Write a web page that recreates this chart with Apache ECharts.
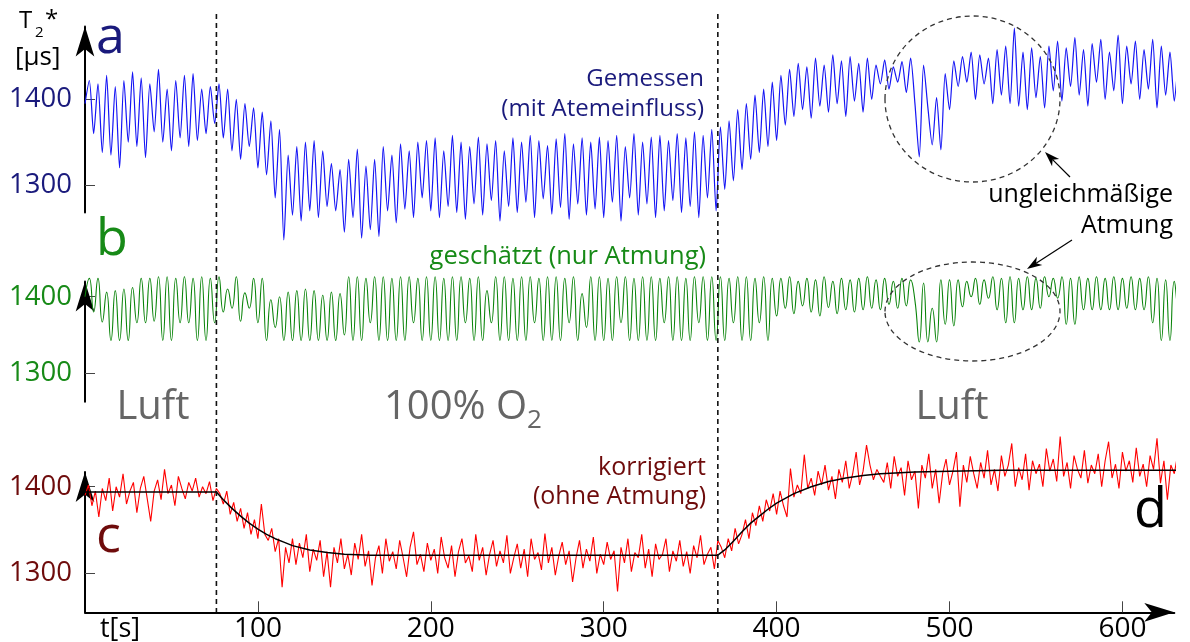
<!DOCTYPE html>
<html><head><meta charset="utf-8">
<script src="https://cdn.jsdelivr.net/npm/echarts@6/dist/echarts.min.js"></script>
<style>html,body{margin:0;padding:0;background:#fff}#c{width:1190px;height:642px}</style>
</head><body><div id="c"></div>
<script>
// ---- data ----
const DT_AB = 2.5;   // sampling step (s) of measured and breathing signal
const DT_C = 2;      // sampling step (s) of corrected signal
const measured = [
1395,1422,1360,1418,1338,1428,1335,1415,1320,1422,
1350,1432,1345,1425,1332,1418,1362,1435,1350,1412,
1340,1422,1355,1428,1345,1430,1352,1412,1360,1415,
1372,1418,1355,1412,1340,1400,1330,1395,1345,1390,
1320,1385,1312,1375,1285,1365,1236,1335,1265,1345,
1258,1350,1270,1352,1262,1340,1275,1325,1270,1318,
1245,1330,1262,1342,1238,1322,1248,1330,1240,1345,
1270,1335,1256,1348,1272,1340,1262,1350,1285,1352,
1270,1355,1262,1340,1275,1358,1268,1350,1260,1345,
1278,1356,1265,1348,1282,1352,1258,1340,1275,1355,
1268,1350,1280,1358,1262,1352,1284,1346,1266,1354,
1274,1360,1260,1348,1278,1355,1265,1350,1272,1356,
1262,1352,1280,1358,1258,1345,1285,1360,1265,1350,
1278,1356,1262,1358,1270,1352,1282,1360,1268,1355,
1275,1362,1262,1358,1285,1365,1270,1368,1295,1375,
1305,1388,1318,1395,1330,1405,1338,1412,1345,1420,
1352,1428,1370,1435,1380,1442,1388,1438,1378,1448,
1392,1440,1385,1452,1395,1445,1380,1450,1398,1442,
1385,1448,1400,1440,1418,1446,1412,1438,1420,1444,
1408,1448,1395,1333,1440,1390,1347,1402,1341,1430,
1388,1445,1415,1450,1420,1455,1400,1452,1418,1448,
1395,1458,1405,1462,1395,1483,1392,1455,1388,1460,
1402,1450,1390,1462,1410,1468,1398,1460,1415,1472,
1405,1458,1392,1465,1420,1470,1400,1455,1410,1475,
1395,1462,1418,1468,1400,1458,1412,1470,1390,1462,
1405,1455,1398,1445,1341,1440,1398];
const breathing = [
1400,1424,1380,1424,1367,1406,1343,1408,1343,1410,
1343,1412,1366,1424,1366,1424,1368,1426,1343,1426,
1343,1424,1366,1426,1366,1424,1343,1426,1343,1424,
1366,1426,1380,1410,1385,1426,1368,1405,1385,1424,
1366,1424,1343,1396,1360,1400,1343,1406,1343,1408,
1343,1410,1343,1408,1343,1402,1343,1406,1343,1404,
1350,1426,1343,1426,1343,1424,1366,1426,1343,1426,
1343,1424,1343,1426,1343,1426,1366,1424,1343,1426,
1343,1426,1343,1424,1343,1426,1343,1426,1366,1424,
1343,1426,1343,1408,1366,1426,1343,1426,1343,1424,
1343,1426,1343,1426,1366,1424,1343,1426,1343,1426,
1343,1424,1366,1426,1343,1404,1360,1426,1343,1426,
1343,1424,1343,1426,1366,1426,1343,1424,1343,1426,
1343,1426,1343,1424,1366,1426,1343,1426,1343,1424,
1343,1426,1366,1426,1343,1426,1343,1426,1343,1424,
1366,1426,1343,1426,1343,1424,1366,1426,1343,1424,
1375,1424,1385,1426,1378,1420,1388,1424,1380,1422,
1375,1426,1386,1420,1378,1424,1383,1422,1380,1424,
1383,1426,1385,1422,1383,1424,1390,1420,1385,1424,
1388,1422,1395,1341,1418,1341,1385,1341,1422,1364,
1422,1362,1422,1387,1420,1400,1424,1390,1422,1398,
1426,1383,1424,1366,1426,1366,1424,1383,1426,1383,
1424,1385,1426,1400,1424,1398,1426,1364,1424,1364,
1426,1383,1424,1383,1426,1383,1424,1383,1426,1383,
1424,1385,1426,1383,1424,1383,1426,1366,1424,1343,
1422,1343,1420,1383,1424,1370];
const corrected = [
1390,1402,1378,1395,1365,1398,1384,1410,1372,1400,
1388,1415,1380,1395,1405,1370,1398,1412,1386,1360,
1395,1408,1385,1420,1392,1402,1378,1412,1398,1386,
1405,1395,1410,1388,1400,1392,1406,1384,1398,1392,
1380,1395,1368,1382,1360,1375,1352,1370,1345,1362,
1340,1380,1345,1338,1352,1325,1340,1284,1330,1312,
1340,
1310,1335,1318,1345,1302,1328,1315,1338,1296,1325,
1284,1330,1312,1340,1305,1322,1298,1335,1316,1345,
1308,1326,1286,1318,1332,1300,1340,1314,1325,1305,
1338,1318,1296,1330,1348,1310,1322,1302,1335,1315,
1328,1300,1342,1318,1306,1332,1296,1325,1340,1312,
1320,1302,1345,1315,1330,1298,1322,1338,1308,1326,
1312,1344,1300,1318,1334,1306,1328,1296,1340,1316,
1324,1304,1346,1312,1330,1298,1320,1336,1310,1326,
1290,1318,1338,1306,1328,1314,1342,1300,1322,1310,
1336,1316,1326,1279,1330,1312,1340,1302,1324,1318,
1345,1306,1328,1296,1334,1316,1322,1340,1302,1326,
1314,1338,1308,1325,1300,1332,1318,1344,1310,1322,
1330,1305,1338,
1330,1318,1340,1326,1352,1334,1345,1362,1340,1370,
1355,1378,1360,1385,1372,1392,1368,1395,1378,1365,
1421,1388,1402,1392,1437,1398,1410,1390,1418,1402,
1425,1396,1412,1386,1420,1405,1430,1398,1415,1440,
1402,1418,1448,1425,1408,1420,1412,
1405,1428,1398,1435,1412,1422,1390,1430,1408,1418,
1375,1425,1410,1438,1398,1420,1381,1415,1432,1402,
1418,1440,1377,1425,1405,1435,1415,1398,1428,1410,
1442,1402,1420,1395,1436,1412,1425,1450,1400,1422,
1408,1438,1396,1430,1415,1426,1400,1444,1418,1432,
1406,1458,1412,1428,1398,1436,1420,1410,1442,1404,
1425,1415,1438,1400,1430,1452,1410,1426,1398,1440,
1418,1430,1405,1445,1412,1426,1400,1436,1420,1456,
1404,1430,1385,1425,1415,1438,1410,1422,1418];
const fitT = [0,76,80,85,90,95,100,105,110,115,120,130,140,150,165,180,366,370,375,380,385,390,395,400,410,420,430,440,450,460,480,500,530,560,640];
const fitV = [1394,1394,1385,1375,1366,1358,1351,1345,1340,1336,1332,1327,1324,1322,1321,1321,1321,1327,1337,1348,1358,1366,1374,1381,1392,1400,1406,1410,1413,1415,1417,1418,1419,1419,1419];
const xTicks = [100,200,300,400,500,600];
const yTicks = [1300,1400];
const phaseChanges = [76, 366];

// ---- styling ----
const FONT = '"Open Sans", "Noto Sans", sans-serif';
const NAVY = '#1a1a7c', GREEN = '#178a17', DRED = '#6e0b0b', GRAY = '#666666';
const GL = 85, GW = 1089.3;

function yAx(gi, min, max, color) {
  return { type: 'value', gridIndex: gi, min, max,
    axisLine: { show: true, onZero: false, symbol: ['none', 'arrow'], symbolSize: [14, 30], lineStyle: { color: '#000', width: 2 } },
    axisTick: { show: true, inside: true, length: 10, customValues: yTicks, lineStyle: { color: '#444', width: 1 } },
    axisLabel: { show: true, customValues: yTicks, margin: 13, color, fontSize: 27.5, fontFamily: FONT, formatter: v => String(v) },
    splitLine: { show: false } };
}
function xAx(gi, show) {
  return { type: 'value', gridIndex: gi, min: 0, max: 630, show,
    axisLine: { show: true, onZero: false, symbol: ['none', 'arrow'], symbolSize: [14, 30], lineStyle: { color: '#000', width: 2 } },
    axisTick: { show: true, inside: true, length: 11, customValues: xTicks, lineStyle: { color: '#444', width: 1 } },
    axisLabel: { customValues: xTicks, margin: 3, color: '#000', fontSize: 28, fontFamily: FONT, formatter: v => String(v) },
    splitLine: { show: false } };
}
const option = {
  animation: false,
  backgroundColor: '#fff',
  grid: [
    { left: GL, width: GW, top: 26.5, height: 186, outerBoundsMode: 'none' },
    { left: GL, width: GW, top: 281.4, height: 120.3, outerBoundsMode: 'none' },
    { left: GL, width: GW, top: 472, height: 140.3, outerBoundsMode: 'none' }
  ],
  xAxis: [xAx(0, false), xAx(1, false), xAx(2, true)],
  yAxis: [yAx(0, 1268, 1485, NAVY), yAx(1, 1263, 1420, GREEN), yAx(2, 1255, 1417, DRED)],
  series: [
    { type: 'line', xAxisIndex: 0, yAxisIndex: 0, clip: false, showSymbol: false, smooth: 0.25,
      data: measured.map((v, i) => [i * DT_AB, v]), lineStyle: { color: '#1414f5', width: 1.2 }, itemStyle: { color: '#1414f5' } },
    { type: 'line', xAxisIndex: 1, yAxisIndex: 1, clip: false, showSymbol: false, smooth: 0.55,
      data: breathing.map((v, i) => [i * DT_AB, v]), lineStyle: { color: '#0a840a', width: 1.1 }, itemStyle: { color: '#0a840a' } },
    { type: 'line', xAxisIndex: 2, yAxisIndex: 2, clip: false, showSymbol: false,
      data: corrected.map((v, i) => [i * DT_C, v]), lineStyle: { color: '#ff0000', width: 1.1 }, itemStyle: { color: '#ff0000' } },
    { type: 'line', xAxisIndex: 2, yAxisIndex: 2, clip: false, showSymbol: false,
      data: fitT.map((t, i) => [t, fitV[i]]), lineStyle: { color: '#000', width: 1.5 }, itemStyle: { color: '#000' } }
  ]
};
const chart = echarts.init(document.getElementById('c'), null, { renderer: 'canvas' });
chart.setOption(option);

function txt(text, x, y, size, color, align) {
  return { type: 'text', x, y, z: 100, silent: true,
    style: { text, font: size + 'px ' + FONT, fill: color, textAlign: align || 'left', textVerticalAlign: 'middle', align: align || 'left', verticalAlign: 'middle' } };
}
function arrowHead(x0, y0, x1, y1, len, half) {
  const d = Math.hypot(x1 - x0, y1 - y0), ux = (x1 - x0) / d, uy = (y1 - y0) / d;
  const bx = x1 - ux * len, by = y1 - uy * len, nx = x1 - ux * len * 0.72, ny = y1 - uy * len * 0.72;
  return [
    { type: 'line', z: 100, silent: true, shape: { x1: x0, y1: y0, x2: nx, y2: ny }, style: { stroke: '#000', lineWidth: 1.2 } },
    { type: 'polygon', z: 100, silent: true, shape: { points: [[x1, y1], [bx - uy * half, by + ux * half], [nx, ny], [bx + uy * half, by - ux * half]] }, style: { fill: '#000' } }
  ];
}
const g = [];
phaseChanges.forEach(t => {
  const X = chart.convertToPixel({ xAxisIndex: 2 }, t);
  g.push({ type: 'line', z: 90, silent: true, shape: { x1: X, y1: 14, x2: X, y2: 612 }, style: { stroke: '#111', lineWidth: 1.6, lineDash: [5, 4] } });
});
g.push({ type: 'ellipse', z: 100, silent: true, shape: { cx: 972.5, cy: 99, rx: 87.5, ry: 83 }, style: { fill: null, stroke: '#333', lineWidth: 1.3, lineDash: [5, 4] } });
g.push({ type: 'ellipse', z: 100, silent: true, shape: { cx: 972.5, cy: 311.5, rx: 87.5, ry: 49.5 }, style: { fill: null, stroke: '#333', lineWidth: 1.3, lineDash: [5, 4] } });
g.push(...arrowHead(1070, 177, 1045, 152, 15, 5));
g.push(...arrowHead(1072, 240, 1027, 269, 15, 5));
g.push(
  txt('T', 19, 21, 24, '#000'), txt('2', 35, 33, 15, '#000'), txt('*', 45, 20, 24, '#000'),
  txt('[µs]', 15, 58, 26, '#000'),
  txt('a', 96, 38, 52, NAVY), txt('b', 96, 240, 52, GREEN), txt('c', 96, 537, 52, DRED), txt('d', 1134, 512, 54, '#000'),
  txt('Gemessen', 704, 79, 24, NAVY, 'right'), txt('(mit Atemeinfluss)', 704, 109, 24, NAVY, 'right'),
  txt('geschätzt (nur Atmung)', 706, 257, 25.5, GREEN, 'right'),
  txt('korrigiert', 706, 468, 25, DRED, 'right'), txt('(ohne Atmung)', 706, 497, 25, DRED, 'right'),
  txt('ungleichmäßige', 1173, 195, 25, '#000', 'right'), txt('Atmung', 1173, 226, 25, '#000', 'right'),
  txt('Luft', 153, 408, 40, GRAY, 'center'), txt('100% O', 384, 408, 40, GRAY), txt('2', 527, 421, 26, GRAY),
  txt('Luft', 952, 408, 40, GRAY, 'center'),
  txt('t[s]', 100, 629, 27, '#000')
);
chart.setOption({ graphic: g });
</script></body></html>
